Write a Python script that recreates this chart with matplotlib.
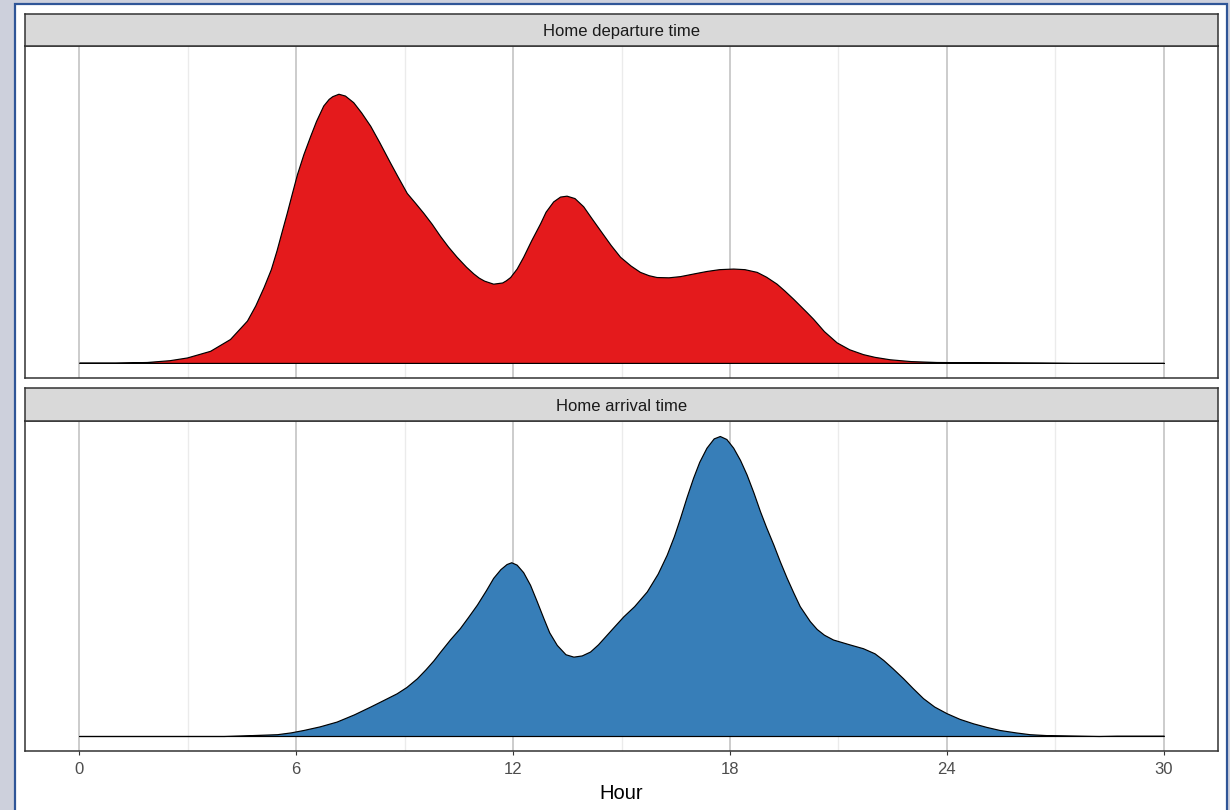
import matplotlib
matplotlib.use("Agg")
import matplotlib.pyplot as plt
from matplotlib.patches import Rectangle

plt.rcParams['font.family'] = ['Liberation Sans', 'DejaVu Sans']

# ---- data (density in relative units) ----
dep_hours = [0, 1.0, 1.87, 2.5, 2.98, 3.62, 4.17, 4.64, 4.87, 5.10, 5.30, 5.46, 5.60, 5.74,
             5.88, 6.02, 6.20, 6.39, 6.55, 6.75, 6.90, 7.0, 7.17, 7.35, 7.58, 7.80, 8.05,
             8.30, 8.60, 8.80, 9.06, 9.30, 9.52, 9.75, 9.98, 10.2, 10.44, 10.7, 10.90, 11.05,
             11.20, 11.45, 11.70, 11.80, 11.92, 12.1, 12.28, 12.5, 12.75, 12.9, 13.11, 13.3,
             13.48, 13.7, 13.94, 14.15, 14.40, 14.7, 14.96, 15.25, 15.51, 15.75, 15.97, 16.3,
             16.62, 17.0, 17.35, 17.7, 18.09, 18.4, 18.74, 19.0, 19.29, 19.5, 19.75, 20.12,
             20.30, 20.6, 20.95, 21.3, 21.68, 22.0, 22.42, 23.0, 23.71, 25.0, 26.6, 27.5, 30]
dep_density = [0.001, 0.001, 0.003, 0.009, 0.018, 0.040, 0.079, 0.140, 0.190, 0.251, 0.310,
               0.373, 0.435, 0.496, 0.560, 0.623, 0.690, 0.751, 0.800, 0.851, 0.873, 0.882,
               0.890, 0.884, 0.862, 0.828, 0.784, 0.730, 0.662, 0.618, 0.562, 0.528, 0.496,
               0.460, 0.420, 0.385, 0.351, 0.318, 0.296, 0.282, 0.272, 0.262, 0.266, 0.273,
               0.284, 0.312, 0.351, 0.405, 0.462, 0.500, 0.534, 0.550, 0.553, 0.545, 0.518,
               0.482, 0.440, 0.390, 0.351, 0.322, 0.301, 0.290, 0.284, 0.283, 0.287, 0.296,
               0.304, 0.310, 0.312, 0.310, 0.301, 0.285, 0.262, 0.240, 0.212, 0.168, 0.146,
               0.105, 0.068, 0.045, 0.029, 0.020, 0.012, 0.006, 0.003, 0.002, 0.001, 0.0, 0.0]

arr_hours = [0, 4.0, 4.54, 5.0, 5.47, 5.85, 6.20, 6.65, 7.12, 7.6, 8.05, 8.4, 8.78, 9.05,
             9.34, 9.58, 9.80, 9.98, 10.26, 10.53, 10.75, 11.00, 11.25, 11.45, 11.65, 11.82,
             11.95, 12.10, 12.28, 12.47, 12.65, 12.84, 13.0, 13.21, 13.45, 13.67, 13.90,
             14.13, 14.35, 14.59, 14.8, 15.05, 15.35, 15.70, 16.0, 16.25, 16.45, 16.62, 16.80,
             16.98, 17.15, 17.35, 17.55, 17.72, 17.90, 18.09, 18.28, 18.46, 18.65, 18.83,
             19.0, 19.20, 19.38, 19.57, 19.75, 19.93, 20.21, 20.40, 20.6, 20.85, 21.3, 21.68,
             22.0, 22.24, 22.5, 22.79, 23.05, 23.34, 23.65, 23.99, 24.35, 24.73, 25.1, 25.46,
             25.9, 26.29, 26.75, 27.7, 28.2, 28.7, 30]
arr_density = [0.0, 0.0, 0.002, 0.004, 0.006, 0.012, 0.020, 0.032, 0.048, 0.072, 0.098,
               0.119, 0.142, 0.163, 0.192, 0.222, 0.252, 0.280, 0.322, 0.359, 0.395, 0.437,
               0.485, 0.526, 0.555, 0.572, 0.578, 0.570, 0.545, 0.503, 0.450, 0.392, 0.345,
               0.303, 0.272, 0.264, 0.268, 0.281, 0.305, 0.337, 0.365, 0.398, 0.432, 0.481,
               0.540, 0.603, 0.665, 0.726, 0.795, 0.859, 0.912, 0.959, 0.990, 0.998, 0.988,
               0.959, 0.918, 0.870, 0.810, 0.748, 0.695, 0.637, 0.581, 0.526, 0.478, 0.432,
               0.382, 0.356, 0.337, 0.321, 0.305, 0.292, 0.275, 0.253, 0.225, 0.192, 0.160,
               0.126, 0.098, 0.076, 0.057, 0.042, 0.030, 0.020, 0.012, 0.006, 0.003, 0.001,
               0.0, 0.001, 0.001]

panel_titles = ["Home departure time", "Home arrival time"]
fill_colors = ["#E41A1C", "#377EB8"]
x_ticks = [0, 6, 12, 18, 24, 30]
x_minor = [3, 9, 15, 21, 27]
x_label = "Hour"

series = [(dep_hours, dep_density), (arr_hours, arr_density)]

# ---- layout ----
W, H = 1230, 810
fig = plt.figure(figsize=(W / 100, H / 100), dpi=100)
fig.patch.set_facecolor('#CDD0DC')


def fx(px):
    return px / W


def fy(py):
    return 1 - py / H


fig.add_artist(Rectangle((fx(15), fy(830)), fx(1227) - fx(15), fy(4) - fy(830),
                         transform=fig.transFigure, facecolor='white',
                         edgecolor='#2F5597', linewidth=1.6, zorder=0))

# (panel top, panel bottom, strip top) in pixels
panels = [(46, 378, 14), (421, 751, 388)]
left_px, right_px = 25, 1218

ymax_data = max(max(dep_density), max(arr_density))
ylim = (-0.05 * ymax_data, 1.05 * ymax_data)

for i, ((top, bot, stop), (hrs, dens)) in enumerate(zip(panels, series)):
    ax = fig.add_axes([fx(left_px), fy(bot), fx(right_px) - fx(left_px), (bot - top) / H])
    ax.set_xlim(-1.5, 31.5)
    ax.set_ylim(*ylim)
    ax.fill_between(hrs, dens, 0, facecolor=fill_colors[i], edgecolor='black',
                    linewidth=0.85, zorder=3)
    ax.set_xticks(x_ticks)
    ax.set_xticks(x_minor, minor=True)
    ax.set_yticks([])
    ax.grid(which='major', axis='x', color='#c4c4c4', linewidth=1.2)
    ax.grid(which='minor', axis='x', color='#ebebeb', linewidth=1.0)
    ax.set_axisbelow(True)
    for sp in ax.spines.values():
        sp.set_color('#333333')
        sp.set_linewidth(1.1)
    ax.tick_params(which='minor', length=0)
    if i == 0:
        ax.tick_params(which='both', bottom=False, labelbottom=False)
    else:
        ax.tick_params(axis='x', which='major', length=3, width=0.8, color='#333333',
                       labelsize=12, labelcolor='#4d4d4d', pad=5)
        ax.set_xlabel(x_label, fontsize=14.5, color='black', labelpad=5)

    sax = fig.add_axes([fx(left_px), fy(top), fx(right_px) - fx(left_px), (top - stop) / H])
    sax.set_facecolor('#d9d9d9')
    sax.set_xticks([])
    sax.set_yticks([])
    for sp in sax.spines.values():
        sp.set_color('#333333')
        sp.set_linewidth(1.1)
    sax.text(0.5, 0.44, panel_titles[i], ha='center', va='center', fontsize=12,
             color='#1a1a1a', transform=sax.transAxes)

fig.savefig("out.png", dpi=100, facecolor=fig.get_facecolor())
